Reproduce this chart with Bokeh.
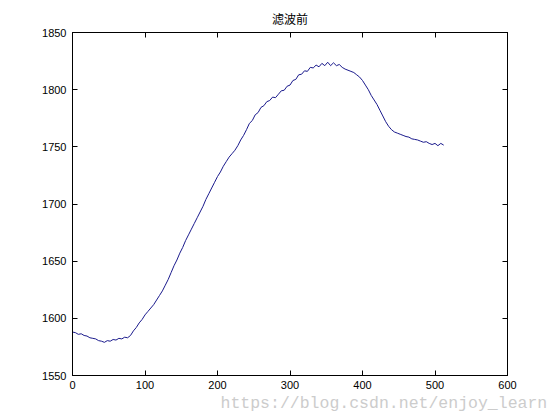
from bokeh.plotting import figure
from bokeh.models import Range1d, LinearAxis, FixedTicker, Title
from bokeh.embed import file_html
from bokeh.resources import INLINE

title_text = "滤波前"
watermark = "https://blog.csdn.net/enjoy_learn"

x_ticks = [0, 100, 200, 300, 400, 500, 600]
y_ticks = [1550, 1600, 1650, 1700, 1750, 1800, 1850]

sample_x = list(range(0, 513, 4))
signal = [
    1588, 1587.5, 1586, 1586.5, 1585, 1584.5, 1583, 1582.5, 1582, 1580.5,
    1580, 1579, 1580.5, 1580, 1581.5, 1581, 1582.5, 1582, 1583.5, 1583,
    1585, 1589, 1592, 1596, 1599, 1603, 1606, 1609, 1612, 1616,
    1620, 1624, 1629, 1634, 1640, 1646, 1651, 1657, 1662, 1668,
    1673, 1678, 1683, 1688, 1693, 1698, 1704, 1709, 1714, 1719,
    1724, 1728, 1733, 1737, 1741, 1744, 1747, 1751, 1756, 1760,
    1765, 1770.5, 1773, 1778, 1780, 1784.5, 1786, 1789.5, 1790.5, 1793.5,
    1793, 1796, 1799, 1799.5, 1803, 1804, 1808, 1809, 1813, 1813.5,
    1816.5, 1816, 1819.5, 1819, 1821.5, 1820, 1823, 1821, 1824, 1821,
    1823.5, 1821, 1822, 1819.5, 1818, 1817, 1816, 1815, 1813, 1811,
    1808, 1804, 1800, 1795, 1791, 1787, 1782, 1777, 1772, 1768,
    1765, 1763, 1762, 1761, 1760, 1759, 1758.5, 1757, 1756.5, 1756,
    1755, 1754, 1754.5, 1753, 1752, 1753, 1751, 1753, 1751.5,
]

FONT = "Liberation Sans"

p = figure(width=556, height=416, output_backend="svg", toolbar_location=None,
           x_range=Range1d(0, 600), y_range=Range1d(1550, 1850),
           min_border_left=72, min_border_right=49, min_border_top=32,
           min_border_bottom=41, x_axis_location=None, y_axis_location=None)
p.xgrid.visible = False
p.ygrid.visible = False
p.outline_line_color = "black"
p.outline_line_width = 1
p.background_fill_color = "white"
p.border_fill_color = "white"

def style(ax, ticks, labels=True):
    ax.major_tick_in = 5
    ax.major_tick_out = 0
    ax.minor_tick_in = 0
    ax.minor_tick_out = 0
    ax.axis_line_color = "black"
    ax.major_tick_line_color = "black"
    ax.major_label_text_font = FONT
    ax.major_label_text_font_size = "11px"
    ax.major_label_text_color = "black"
    ax.major_label_standoff = 5
    if not labels:
        ax.major_label_overrides = {t: "" for t in ticks}
        ax.major_label_standoff = 0

xb = LinearAxis(ticker=FixedTicker(ticks=x_ticks))
style(xb, x_ticks)
yl = LinearAxis(ticker=FixedTicker(ticks=y_ticks))
style(yl, y_ticks)
yl.major_label_standoff = 6
xt = LinearAxis(ticker=FixedTicker(ticks=x_ticks))
style(xt, x_ticks, labels=False)
yr = LinearAxis(ticker=FixedTicker(ticks=y_ticks))
style(yr, y_ticks, labels=False)
p.add_layout(xb, "below")
p.add_layout(yl, "left")
p.add_layout(xt, "above")
p.add_layout(yr, "right")

p.line(sample_x, signal, line_color="#1a1a8c", line_width=1)

p.add_layout(Title(text=title_text, align="center", text_font="Noto Sans CJK SC",
                   text_font_size="12px", text_font_style="normal",
                   text_color="black", standoff=12), "above")
p.add_layout(Title(text=watermark, align="left", offset=148, text_font="Liberation Mono",
                   text_font_size="16.5px", text_font_style="normal",
                   text_color="#cccccc", standoff=0), "below")

open("out.html", "w").write(file_html(p, INLINE))
